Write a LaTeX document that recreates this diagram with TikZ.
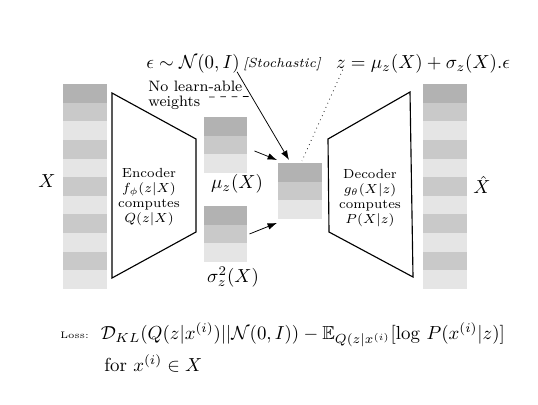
\documentclass[tikz,border=0pt]{standalone}
\usepackage{amsmath,amssymb}
\usetikzlibrary{arrows.meta,calc,fit,positioning}
\colorlet{dk}{black!30}
\colorlet{md}{black!21}
\colorlet{lt}{black!10}

\begin{document}
\begin{tikzpicture}[
x=0.53pt, y=-0.53pt,
node distance = 4pt and 6pt,
cell/.style = {minimum width=23.3pt, minimum height=9.88pt,
               inner sep=0pt, outer sep=0pt},
grp/.style  = {inner sep=0pt, outer sep=0pt, fit=#1},
net/.style  = {draw, semithick, line join=miter},
txt/.style  = {inner sep=0pt, align=center, font=\scriptsize},
arr/.style  = {-{Latex[length=5pt,width=3.5pt]}, thin}
                ]
\useasboundingbox (0,0) rectangle (538,404);
%% input and reconstruction
\foreach \c [count=\i] in {dk,md,lt,md,lt,md,lt,md,lt,md,lt}{
    \node (x\i)  [cell, fill=\c] at (85,{74.68+18.64*\i}) {};
    \node (xh\i) [cell, fill=\c] at (445,{74.68+18.64*\i}) {};
}
\node (xin)  [inner sep=0pt] at (47,181) {$X$};
\node (xout) [inner sep=0pt] at (482,185) {$\hat{X}$};
%% encoder and decoder
\draw[net] (112,93) -- (196,139) -- (196,232) -- (112,278) -- cycle;
\draw[net] (328,139) -- (410,92) -- (413,277) -- (329,232) -- cycle;
\node (enc) [txt] at (149,197)
    {Encoder\\ $f_\phi(z|X)$\\ computes\\ $Q(z|X)$};
\node (dec) [txt] at (370,198)
    {Decoder\\ $g_\theta(X|z)$\\ computes\\ $P(X|z)$};
%% latent
\foreach \c [count=\i] in {dk,md,lt}{
    \node (m\i) [cell, fill=\c] at (225.5,{107.68+18.64*\i}) {};
    \node (s\i) [cell, fill=\c] at (225.5,{196.68+18.64*\i}) {};
    \node (z\i) [cell, fill=\c] at (300,{153.68+18.64*\i}) {};
}
\node (mu) [grp={(m1) (m3)}] {};
\node (sg) [grp={(s1) (s3)}] {};
\node (zb) [grp={(z1) (z3)}] {};
\node (mul) [inner sep=0pt] at (237,184) {$\mu_z(X)$};
\node (sgl) [inner sep=0pt] at (233,277) {$\sigma^2_z(X)$};
%% sampling
\node (eps)  [inner sep=0pt] at (193,64) {$\epsilon \sim \mathcal{N}(0,I)$};
\node (stoc) [inner sep=0pt, font=\scriptsize\itshape] at (282,64) {[Stochastic]};
\node (zf)   [inner sep=0pt] at (423,64) {$z = \mu_z(X) + \sigma_z(X) . \epsilon$};
\node (nlw)  [txt, align=left, anchor=west,
              font=\footnotesize\linespread{0.84}\selectfont] at (148,95)
    {No learn-able\\ weights};
\coordinate (es) at ([shift={(-3,-2)}]eps.south east);
\coordinate (et) at ([shift={(-11,-3)}]zb.north);
\draw[arr] (es) -- (et);
\draw[arr] ([shift={(7,6)}]mu.east) -- ([shift={(-1,-3)}]zb.north west);
\draw[arr] ([shift={(2,0)}]sg.east) -- ([shift={(-1,4)}]zb.south west);
\coordinate (dw) at (209,97);
\draw[thin, dashed] (dw) -- ($(es)!0.28!(et)$);
\draw[thin, dotted] ([shift={(7,-4)}]zf.south west) -- ([shift={(2,-2)}]zb.north);
%% loss
\node (ls) [inner sep=0pt, anchor=west, font=\tiny] at (60,335) {Loss:};
\node (lf) [inner sep=0pt, right=of ls]
    {$\mathcal{D}_{KL}(Q(z|x^{(i)})||\mathcal{N}(0,I)) - \mathbb{E}_{Q(z|x^{(i)}}[\log\, P(x^{(i)}|z)]$};
\node (fr) [inner sep=0pt, anchor=west] at (104,363) {for $x^{(i)} \in X$};
%%
\end{tikzpicture}
\end{document}
